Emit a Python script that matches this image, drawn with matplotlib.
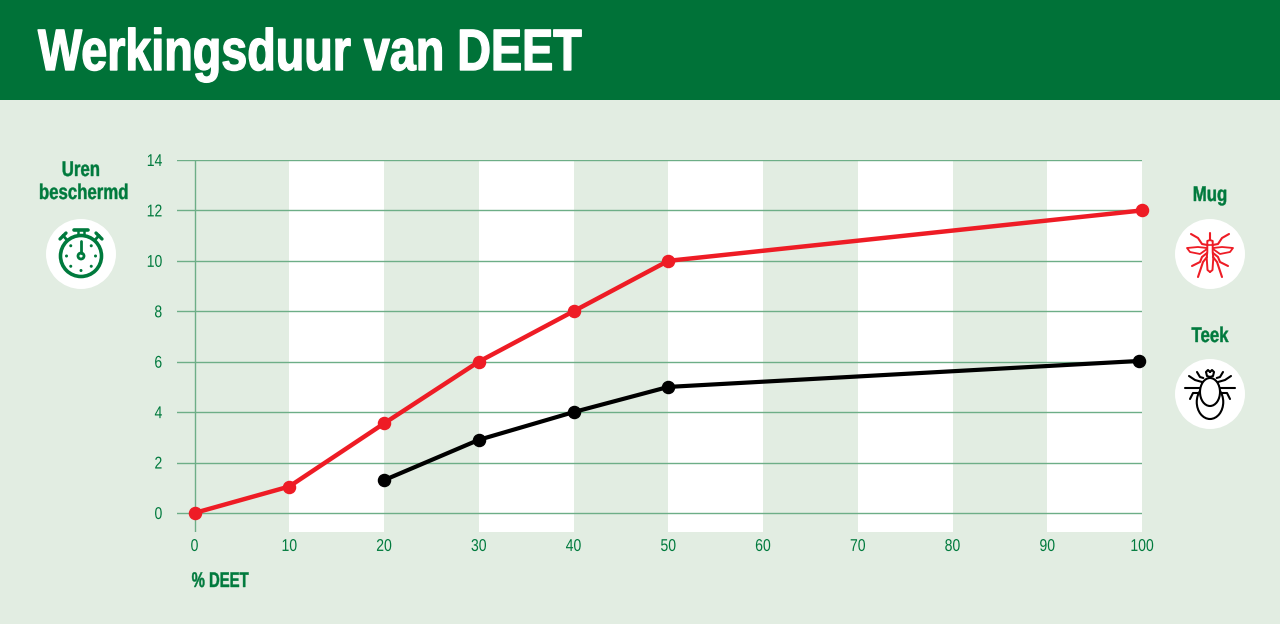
import matplotlib
matplotlib.use('Agg')
import matplotlib.pyplot as plt
import numpy as np
from matplotlib.patches import Circle, Ellipse, Rectangle
from matplotlib.transforms import Affine2D
import matplotlib.patheffects as pe

# data
pct_ticks = [0, 10, 20, 30, 40, 50, 60, 70, 80, 90, 100]
hour_ticks = [0, 2, 4, 6, 8, 10, 12, 14]
mug_x = [0, 10, 20, 30, 40, 50, 100]
mug_y = [0, 1.05, 3.55, 6, 8, 10, 12]
teek_x = [20, 30, 40, 50, 99.7]
teek_y = [1.3, 2.9, 4, 5, 6.03]

GREEN = '#007A3D'
HEADER = '#007238'
BG = '#E2EDE2'
GRID = '#6DAE87'
RED = '#EE1C25'

plt.rcParams['font.family'] = ['Liberation Sans', 'DejaVu Sans']


class Narrow(pe.AbstractPathEffect):
    # no narrow font installed, so squeeze the glyphs sideways
    def __init__(self, sx, anchor='center', stroke=0):
        super().__init__()
        self.sx = sx
        self.anchor = anchor
        self.stroke = stroke

    def draw_path(self, renderer, gc, tpath, affine, rgbFace=None):
        box = tpath.get_extents(affine)
        x0 = {'left': box.x0, 'right': box.x1, 'center': (box.x0 + box.x1) / 2}[self.anchor]
        squeeze = Affine2D().translate(-x0, 0).scale(self.sx, 1).translate(x0, 0)
        gc0 = renderer.new_gc()
        gc0.copy_properties(gc)
        if self.stroke:
            gc0.set_linewidth(self.stroke)
            gc0.set_foreground(rgbFace)
        renderer.draw_path(gc0, tpath, affine + squeeze, rgbFace)
        gc0.restore()


W, H = 1280, 624
fig = plt.figure(figsize=(W / 100, H / 100), dpi=100, facecolor=BG)

# overlay in pixel coordinates for header, labels and icons
px = fig.add_axes([0, 0, 1, 1], zorder=3)
px.set_xlim(0, W)
px.set_ylim(H, 0)
px.axis('off')
px.patch.set_alpha(0)

px.add_patch(Rectangle((0, 0), W, 100, color=HEADER, lw=0))
px.text(38, 70, 'Werkingsduur van DEET', color='white', fontsize=42, fontweight='bold',
        va='baseline', ha='left', path_effects=[Narrow(0.8, 'left', stroke=1.0)])

# chart
left, right, top, bottom = 177, 1142, 160, 532
ax = fig.add_axes([left / W, 1 - bottom / H, (right - left) / W, (bottom - top) / H], zorder=2)
ax.patch.set_alpha(0)
x_per_px = 100 / (right - 194.5)
ax.set_xlim(-17.5 * x_per_px, 100)
ax.set_ylim(-19 / 25.2, 14)
for s in ax.spines.values():
    s.set_visible(False)

for a, b in zip(pct_ticks[1::2], pct_ticks[2::2]):
    ax.axvspan(a, b, color='white', lw=0, zorder=1)
for y in hour_ticks:
    ax.axhline(y, color=GRID, lw=1.0, zorder=2)
ax.axvline(0, color=GRID, lw=1.0, zorder=2)

ax.plot(mug_x, mug_y, color=RED, lw=3.2, marker='o', ms=8.7, zorder=4, clip_on=False)
ax.plot(teek_x, teek_y, color='black', lw=3.0, marker='o', ms=8.7, zorder=4, clip_on=False)

ax.set_xticks(pct_ticks)
ax.set_yticks(hour_ticks)
ax.tick_params(length=0, labelsize=12.3, labelcolor=GREEN)
ax.tick_params(axis='x', pad=5)
ax.tick_params(axis='y', pad=10.5)
for lab in ax.get_xticklabels():
    lab.set_path_effects([Narrow(0.82, 'center')])
for lab in ax.get_yticklabels():
    lab.set_path_effects([Narrow(0.82, 'right')])

bold = dict(color=GREEN, fontsize=15.3, fontweight='bold', ha='center', va='baseline')
squeezed = [Narrow(0.79, 'center', stroke=0.3)]
px.text(81, 176, 'Uren', path_effects=squeezed, **bold)
px.text(84, 199, 'beschermd', path_effects=squeezed, **bold)
px.text(1210, 201, 'Mug', path_effects=squeezed, **bold)
px.text(1210, 342, 'Teek', path_effects=squeezed, **bold)
px.text(220, 587, '% DEET', path_effects=[Narrow(0.7, 'center', stroke=0.3)], **bold)

for cx, cy in [(81, 254), (1210, 254), (1210, 394)]:
    px.add_patch(Circle((cx, cy), 35, color='white', lw=0))


def line(xs, ys, color, lw=1.5):
    px.plot(xs, ys, color=color, lw=lw, solid_capstyle='round', solid_joinstyle='round')


def both(cx, pts, color, lw=1.5):
    # draw a limb and its mirror image
    xs = np.array([p[0] for p in pts])
    ys = np.array([p[1] for p in pts])
    line(cx + xs, ys, color, lw)
    line(cx - xs, ys, color, lw)


# stopwatch
cx, cy = 81, 256
px.add_patch(Circle((cx, cy), 20.5, fill=False, ec=GREEN, lw=2.6))
px.add_patch(Circle((cx, cy), 3, fill=False, ec=GREEN, lw=2))
line([cx, cx], [cy - 3, cy - 15], GREEN, 2)
line([cx - 7, cx + 7], [cy - 26.5, cy - 26.5], GREEN, 2.6)
line([cx - 3, cx - 3], [cy - 26, cy - 21], GREEN, 1.8)
line([cx + 3, cx + 3], [cy - 26, cy - 21], GREEN, 1.8)
for sign in (-1, 1):
    line([cx + sign * 14, cx + sign * 18], [cy - 16, cy - 20.5], GREEN, 2)
    line([cx + sign * 15, cx + sign * 21], [cy - 23, cy - 17], GREEN, 2.4)
for ang in [45, 90, 135, 180, 225, 270, 315]:
    a = np.radians(ang)
    px.add_patch(Circle((cx + 14.5 * np.sin(a), cy - 14.5 * np.cos(a)), 1.5, color=GREEN, lw=0))

# mosquito
cx = 1210
line([cx, cx], [233, 240], RED)
both(cx, [(0, 240), (2.7, 241), (2.7, 252), (3.3, 258), (2.5, 270), (0, 272)], RED, 1.4)
line([cx - 2.7, cx + 2.7], [245, 245], RED, 1.2)
both(cx, [(3, 249), (10, 254), (20, 252), (23, 248), (12, 247), (3, 248)], RED, 1.3)
both(cx, [(2.7, 245), (8, 244), (12, 238), (19, 234)], RED)
both(cx, [(3, 253), (8, 257), (10, 262), (18, 266)], RED)
both(cx, [(3, 257), (7, 262), (12, 277)], RED)

# tick
px.add_patch(Ellipse((cx, 402), 26.5, 34, fc='none', ec='black', lw=1.5))
px.add_patch(Ellipse((cx, 392), 20, 28, fc='white', ec='black', lw=1.5, zorder=3))
both(cx, [(0, 377), (3, 376), (4, 372), (2, 370), (0, 372)], 'black')
both(cx, [(6.7, 378), (10, 377), (13, 372)], 'black')
both(cx, [(8, 382), (15, 380), (21, 376)], 'black')
both(cx, [(9, 388), (25, 388)], 'black')
both(cx, [(12, 393), (17, 393), (20, 399)], 'black')

fig.savefig('out.png', dpi=100, facecolor=BG)
